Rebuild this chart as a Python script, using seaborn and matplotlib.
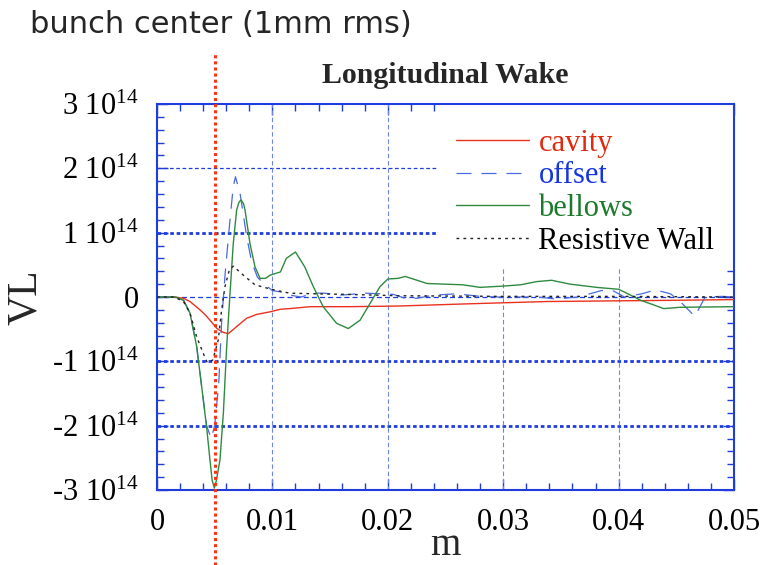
import numpy as np
import seaborn as sns
import matplotlib.pyplot as plt
from matplotlib.patches import Rectangle
from matplotlib.ticker import MultipleLocator

# data (values in units of 1e14)
cavity_x = [0, 0.0015, 0.0023, 0.00286, 0.00373, 0.0042, 0.00459, 0.0052, 0.00575, 0.00618,
            0.0069, 0.00777, 0.00864, 0.0098, 0.0107, 0.0115, 0.0133, 0.0167, 0.0209, 0.028,
            0.0338, 0.0395, 0.0453, 0.05]
cavity_y = [0, 0, -0.02, -0.07, -0.2, -0.28, -0.36, -0.49, -0.55, -0.57,
            -0.46, -0.33, -0.27, -0.23, -0.19, -0.18, -0.15, -0.15, -0.14, -0.10,
            -0.07, -0.06, -0.05, -0.04]

offset_x = [0, 0.0015, 0.0023, 0.00286, 0.00344, 0.00387, 0.0043, 0.0047, 0.0050, 0.00535,
            0.0056, 0.0059, 0.0063, 0.0066, 0.0068, 0.0072, 0.00777, 0.0082, 0.0087, 0.0093,
            0.0100, 0.0107, 0.0115, 0.0125, 0.0135, 0.0145, 0.0160, 0.0180, 0.0195, 0.0205,
            0.0215, 0.0225, 0.0240, 0.0260, 0.0280, 0.0295, 0.0310, 0.0330, 0.0345, 0.0365,
            0.0385, 0.0395, 0.0405, 0.0420, 0.0432, 0.0445, 0.0455, 0.0466, 0.0475, 0.0490,
            0.0500]
offset_y = [0, 0, -0.05, -0.25, -0.77, -1.39, -2.0, -2.2, -2.0, -1.35,
            -0.4, 0.35, 1.15, 1.7, 1.87, 1.61, 0.94, 0.55, 0.31, 0.2,
            0.1, 0.08, 0.03, 0.0, 0.06, 0.06, 0.03, 0.06, 0.05, 0.04,
            -0.02, -0.02, 0.03, 0.05, 0.01, 0.0, 0.0, 0.0, -0.03, 0.0,
            0.1, 0.1, 0.0, 0.05, 0.11, 0.05, -0.1, -0.3, 0.0, 0.01,
            0.0]

bellows_x = [0, 0.0016, 0.0023, 0.00286, 0.00344, 0.00387, 0.0043, 0.00459, 0.00478, 0.00497,
             0.00515, 0.00546, 0.00575, 0.00604, 0.00633, 0.00661, 0.0069, 0.0071, 0.00728, 0.0075,
             0.00763, 0.00806, 0.00849, 0.00893, 0.0094, 0.0098, 0.0107, 0.0112, 0.0120, 0.0128,
             0.01355, 0.0144, 0.01557, 0.01658, 0.0176, 0.01846, 0.01932, 0.0200, 0.0209, 0.0215,
             0.0222, 0.0234, 0.0265, 0.0280, 0.0300, 0.0315, 0.0329, 0.0342, 0.0358, 0.0381,
             0.0400, 0.0407, 0.0419, 0.0430, 0.0439, 0.0453, 0.0500]
bellows_y = [0, 0, -0.05, -0.25, -0.77, -1.39, -2.02, -2.53, -2.85, -2.97,
             -2.85, -2.53, -1.81, -0.77, 0.06, 0.83, 1.35, 1.47, 1.51, 1.45,
             1.35, 0.83, 0.47, 0.29, 0.29, 0.34, 0.39, 0.60, 0.70, 0.47,
             0.16, -0.15, -0.41, -0.49, -0.36, -0.10, 0.16, 0.28, 0.29, 0.32,
             0.28, 0.21, 0.19, 0.15, 0.17, 0.19, 0.24, 0.26, 0.20, 0.15,
             0.12, 0.06, -0.05, -0.12, -0.18, -0.16, -0.15]

wall_x = [0, 0.0015, 0.0023, 0.00286, 0.00344, 0.00402, 0.00436, 0.00483, 0.00531, 0.0056,
          0.00589, 0.00627, 0.00661, 0.00748, 0.00849, 0.0095, 0.0104, 0.0115, 0.0138, 0.0167,
          0.0209, 0.03, 0.04, 0.05]
wall_y = [0, 0, -0.07, -0.25, -0.62, -0.88, -1.02, -0.98, -0.67, -0.2,
          0.16, 0.42, 0.48, 0.34, 0.19, 0.14, 0.10, 0.06, 0.05, 0.04,
          0.02, 0.01, 0.01, 0.0]

x_ticks = [0, 0.01, 0.02, 0.03, 0.04, 0.05]
x_tick_labels = ["0", "0.01", "0.02", "0.03", "0.04", "0.05"]
y_ticks = [-3, -2, -1, 0, 1, 2, 3]
y_tick_labels = ["-3 10$^{14}$", "-2 10$^{14}$", "-1 10$^{14}$", "0",
                 "1 10$^{14}$", "2 10$^{14}$", "3 10$^{14}$"]
bunch_center = 0.005
scale = 1e14

sns.set_style("white")
plt.rcParams["font.family"] = ["Liberation Serif", "DejaVu Serif"]
plt.rcParams["mathtext.fontset"] = "custom"
plt.rcParams["mathtext.rm"] = "Liberation Serif"
plt.rcParams["mathtext.it"] = "Liberation Serif:italic"

axis_blue = "#1f3ddc"

fig = plt.figure(figsize=(7.65, 5.65), dpi=100)
ax = fig.add_axes([0.2052, 0.1327, 0.7543, 0.6832])

# grid
for v in y_ticks:
    if v in (-3, 3):
        continue
    if v == 0:
        ax.axhline(0, color=axis_blue, lw=0.9, ls=(0, (4, 2.5)), zorder=1)
    elif v == 2:
        ax.axhline(v * scale, color=axis_blue, lw=0.9, ls=(0, (3, 2)), zorder=1)
    else:
        ax.axhline(v * scale, color=axis_blue, lw=2.0, ls=(0, (1.3, 1)), zorder=1)
for v in x_ticks[1:-1]:
    ax.axvline(v, color="#6f86ee", lw=0.8, ls=(0, (4, 2.5)), zorder=1)
ax.add_patch(Rectangle((0.487, 0.578), 0.513, 0.422, transform=ax.transAxes,
                       facecolor="white", edgecolor="none", zorder=1.5))

sns.lineplot(x=cavity_x, y=np.array(cavity_y) * scale, ax=ax, color="#e8321e",
             lw=1.0, label="cavity", sort=False, zorder=3)
sns.lineplot(x=offset_x, y=np.array(offset_y) * scale, ax=ax, color="#4a6ae0",
             lw=0.9, linestyle=(0, (12, 8)), label="offset", sort=False, zorder=3)
sns.lineplot(x=bellows_x, y=np.array(bellows_y) * scale, ax=ax, color="#2f8a40",
             lw=1.0, label="bellows", sort=False, zorder=3)
sns.lineplot(x=wall_x, y=np.array(wall_y) * scale, ax=ax, color="#222222",
             lw=1.0, linestyle=(0, (2, 3)), label="Resistive Wall", sort=False, zorder=3)

ax.axvline(bunch_center, ymin=-0.195, ymax=1.135, clip_on=False, color="#ff3311",
           lw=2.2, ls=(0, (1, 1)), zorder=4)

ax.set_xlim(0, 0.05)
ax.set_ylim(-3 * scale, 3 * scale)
ax.set_xticks(x_ticks)
ax.set_xticklabels(x_tick_labels)
ax.set_yticks([v * scale for v in y_ticks])
ax.set_yticklabels(y_tick_labels)
ax.xaxis.set_minor_locator(MultipleLocator(0.002))
ax.yaxis.set_minor_locator(MultipleLocator(0.2 * scale))
ax.tick_params(which="both", direction="in", top=True, right=True, bottom=True, left=True,
               color=axis_blue, width=1.0, labelsize=22, labelcolor="black")
ax.tick_params(axis="x", which="major", length=8, pad=13)
ax.tick_params(axis="y", which="major", length=8, pad=13)
ax.tick_params(which="minor", length=5)
for s in ax.spines.values():
    s.set_color(axis_blue)
    s.set_linewidth(1.5)

ax.set_title("Longitudinal Wake", fontsize=21.5, fontweight="bold", pad=15)
ax.set_xlabel("m", fontsize=28, labelpad=-7)
ax.set_ylabel("VL", fontsize=30, labelpad=5)

leg = ax.legend(loc="upper left", bbox_to_anchor=(0.518, 0.936), frameon=False,
                fontsize=22, handlelength=2.4, handletextpad=0.3, labelspacing=0.12,
                borderpad=0, borderaxespad=0)
leg_colors = ["#e02a10", "#1535e0", "#1c7a2c", "black"]
for txt, c in zip(leg.get_texts(), leg_colors):
    txt.set_color(c)

fig.text(30 / 765, 1 - 33 / 565, "bunch center (1mm rms)", fontsize=22,
         family="DejaVu Sans", va="baseline", ha="left")

fig.savefig("out.png", dpi=100)
plt.close(fig)
